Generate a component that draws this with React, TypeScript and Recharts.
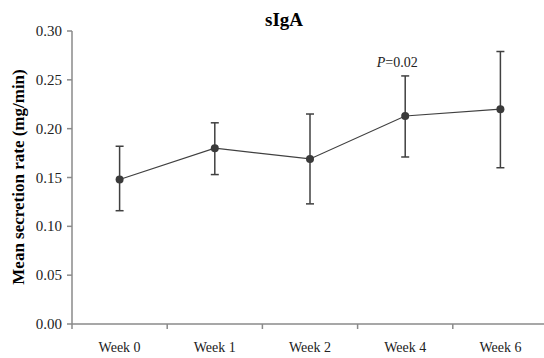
import { LineChart, Line, XAxis, YAxis, ErrorBar, ReferenceDot } from 'recharts';

// weeks on the x axis
const weeks = ['Week 0', 'Week 1', 'Week 2', 'Week 4', 'Week 6'];
// mean secretion rate (mg/min)
const means = [0.148, 0.18, 0.169, 0.213, 0.22];
const upper = [0.182, 0.206, 0.215, 0.254, 0.279];
const lower = [0.116, 0.153, 0.123, 0.171, 0.16];
const yTicks = [0, 0.05, 0.1, 0.15, 0.2, 0.25, 0.3];

const data = weeks.map((w, i) => ({
  x: i + 0.5,
  week: w,
  mean: means[i],
  err: [means[i] - lower[i], upper[i] - means[i]],
}));

// boundaries get a tick mark, centres get the week label
const xTicks: number[] = [];
for (let i = 0; i <= weeks.length * 2; i++) xTicks.push(i / 2);

const FONT = '"Liberation Serif", "Times New Roman", serif';
const serif = { fontFamily: FONT };

const WeekTick = (props: any) => {
  const { x, y, payload } = props;
  const v = payload.value;
  if (Number.isInteger(v)) {
    return <line x1={x} y1={y} x2={x} y2={y + 5} stroke="#8a8a8a" strokeWidth={1.5} />;
  }
  return (
    <text x={x} y={y + 28} textAnchor="middle" fontSize={14} fill="#222" style={serif}>
      {weeks[Math.floor(v)]}
    </text>
  );
};

const ValueTick = (props: any) => {
  const { x, y, payload } = props;
  return (
    <text x={x} y={y} dy={5} textAnchor="end" fontSize={15} fill="#222" style={serif}>
      {Number(payload.value).toFixed(2)}
    </text>
  );
};

const PLabel = (props: any) => {
  const { viewBox } = props;
  return (
    <text x={viewBox.x - 8} y={viewBox.y - 9} textAnchor="middle" fontSize={14} fill="#222" style={serif}>
      <tspan fontStyle="italic">P</tspan>=0.02
    </text>
  );
};

export default function App() {
  return (
    <div style={{ position: 'absolute', left: 0, top: 0, width: 544, height: 358, overflow: 'hidden', background: '#fff', fontFamily: FONT }}>
      <LineChart
        width={548}
        height={358}
        data={data}
        margin={{ top: 31, right: 0, bottom: 0, left: 0 }}
        style={serif}
      >
        <text x={284} y={26} textAnchor="middle" fontSize={19} fontWeight="bold" fill="#000" style={serif}>
          sIgA
        </text>
        <text
          x={0}
          y={0}
          transform="translate(24, 177) rotate(-90)"
          textAnchor="middle"
          fontSize={17}
          fontWeight="bold"
          fill="#000"
          style={serif}
        >
          Mean secretion rate (mg/min)
        </text>
        <XAxis
          type="number"
          dataKey="x"
          domain={[0, weeks.length]}
          ticks={xTicks}
          interval={0}
          tick={<WeekTick />}
          tickLine={false}
          tickSize={0}
          tickMargin={0}
          height={34}
          stroke="#8a8a8a"
          strokeWidth={1.5}
        />
        <YAxis
          domain={[0, 0.3]}
          ticks={yTicks}
          interval={0}
          width={72}
          tickSize={5}
          tickMargin={5}
          tick={<ValueTick />}
          stroke="#8a8a8a"
          strokeWidth={1.5}
        />
        <Line
          dataKey="mean"
          stroke="#404040"
          strokeWidth={1.2}
          dot={{ r: 4, fill: '#3a3a3a', stroke: '#3a3a3a', strokeWidth: 0 }}
          activeDot={false}
          isAnimationActive={false}
        >
          <ErrorBar dataKey="err" width={4} stroke="#404040" strokeWidth={1.5} direction="y" />
        </Line>
        <ReferenceDot x={3.5} y={upper[3]} r={0} stroke="none" label={<PLabel />} />
      </LineChart>
    </div>
  );
}
